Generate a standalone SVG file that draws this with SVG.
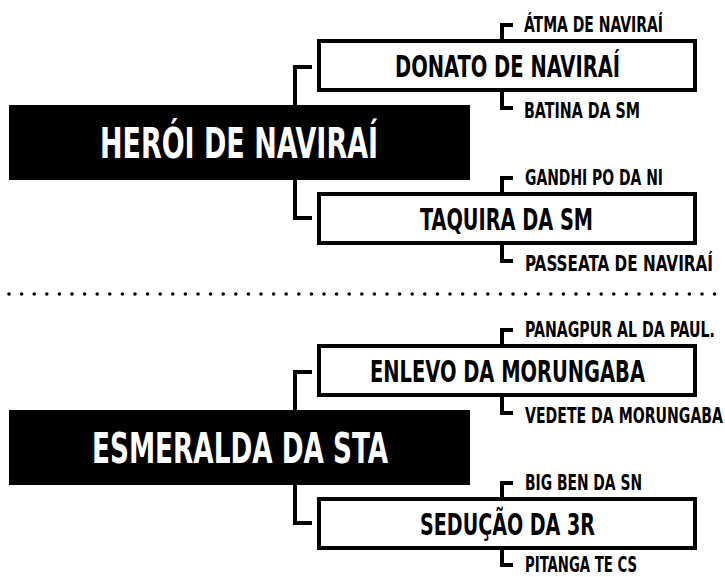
<svg xmlns="http://www.w3.org/2000/svg" width="725" height="577" viewBox="0 0 725 577">
<style>
text{font-family:"DejaVu Sans Condensed","Liberation Sans Narrow","Liberation Sans",sans-serif;font-weight:bold}
.hub{fill:#000}
.hubtxt{font-size:29.5px;fill:#fff}
.box{fill:#fff;stroke:#000;stroke-width:4}
.boxtxt{font-size:21.2px;fill:#000}
.lbl{font-size:15.4px;fill:#000}
.conn{fill:none;stroke:#000;stroke-width:4;stroke-linejoin:miter}
.dots{fill:none;stroke:#000;stroke-width:3.6;stroke-linecap:round;stroke-dasharray:0 12.6}
</style>
<rect width="725" height="577" fill="#fff"/>
<g id="connectors">
<path class="conn" d="M295 105V67H312"/>
<path class="conn" d="M295 180V218H312"/>
<path class="conn" d="M502 39V25H513"/>
<path class="conn" d="M502 92V108H513"/>
<path class="conn" d="M502 192V178H513"/>
<path class="conn" d="M502 245V261H513"/>
<path class="conn" d="M295 410V372H312"/>
<path class="conn" d="M295 485V523H312"/>
<path class="conn" d="M502 344V330H513"/>
<path class="conn" d="M502 397V413H513"/>
<path class="conn" d="M502 497V483H513"/>
<path class="conn" d="M502 550V565H513"/>
</g>
<line id="separator" class="dots" x1="9" y1="294" x2="725" y2="294"/>
<g id="heroi">
<rect class="hub" x="9" y="105" width="461" height="75"/>
<text class="hubtxt" transform="translate(100,158) scale(1,1.42)" textLength="278" lengthAdjust="spacingAndGlyphs">HERÓI DE NAVIRAÍ</text>
</g>
<g id="donato">
<rect class="box" x="319" y="41" width="376" height="49"/>
<text class="boxtxt" transform="translate(395,76.5) scale(1,1.45)" textLength="225" lengthAdjust="spacingAndGlyphs">DONATO DE NAVIRAÍ</text>
</g>
<g id="atma"><text class="lbl" transform="translate(524,32) scale(1,1.36)" textLength="139" lengthAdjust="spacingAndGlyphs">ÁTMA DE NAVIRAÍ</text></g>
<g id="batina"><text class="lbl" transform="translate(524,118) scale(1,1.36)" textLength="116" lengthAdjust="spacingAndGlyphs">BATINA DA SM</text></g>
<g id="taquira">
<rect class="box" x="319" y="194" width="376" height="49"/>
<text class="boxtxt" transform="translate(420,229.5) scale(1,1.45)" textLength="173" lengthAdjust="spacingAndGlyphs">TAQUIRA DA SM</text>
</g>
<g id="gandhi"><text class="lbl" transform="translate(525,185) scale(1,1.36)" textLength="138" lengthAdjust="spacingAndGlyphs">GANDHI PO DA NI</text></g>
<g id="passeata"><text class="lbl" transform="translate(525,271) scale(1,1.36)" textLength="188" lengthAdjust="spacingAndGlyphs">PASSEATA DE NAVIRAÍ</text></g>
<g id="esmeralda">
<rect class="hub" x="9" y="410" width="461" height="75"/>
<text class="hubtxt" transform="translate(92,463) scale(1,1.42)" textLength="296" lengthAdjust="spacingAndGlyphs">ESMERALDA DA STA</text>
</g>
<g id="enlevo">
<rect class="box" x="319" y="346" width="376" height="49"/>
<text class="boxtxt" transform="translate(370,381.5) scale(1,1.45)" textLength="275" lengthAdjust="spacingAndGlyphs">ENLEVO DA MORUNGABA</text>
</g>
<g id="panagpur"><text class="lbl" transform="translate(525,337) scale(1,1.36)" textLength="190" lengthAdjust="spacingAndGlyphs">PANAGPUR AL DA PAUL.</text></g>
<g id="vedete"><text class="lbl" transform="translate(525,423) scale(1,1.36)" textLength="198" lengthAdjust="spacingAndGlyphs">VEDETE DA MORUNGABA</text></g>
<g id="seducao">
<rect class="box" x="319" y="499" width="376" height="49"/>
<text class="boxtxt" transform="translate(420,534.5) scale(1,1.45)" textLength="175" lengthAdjust="spacingAndGlyphs">SEDUÇÃO DA 3R</text>
</g>
<g id="bigben"><text class="lbl" transform="translate(525,490) scale(1,1.36)" textLength="117" lengthAdjust="spacingAndGlyphs">BIG BEN DA SN</text></g>
<g id="pitanga"><text class="lbl" transform="translate(525,572) scale(1,1.36)" textLength="112" lengthAdjust="spacingAndGlyphs">PITANGA TE CS</text></g>
</svg>
